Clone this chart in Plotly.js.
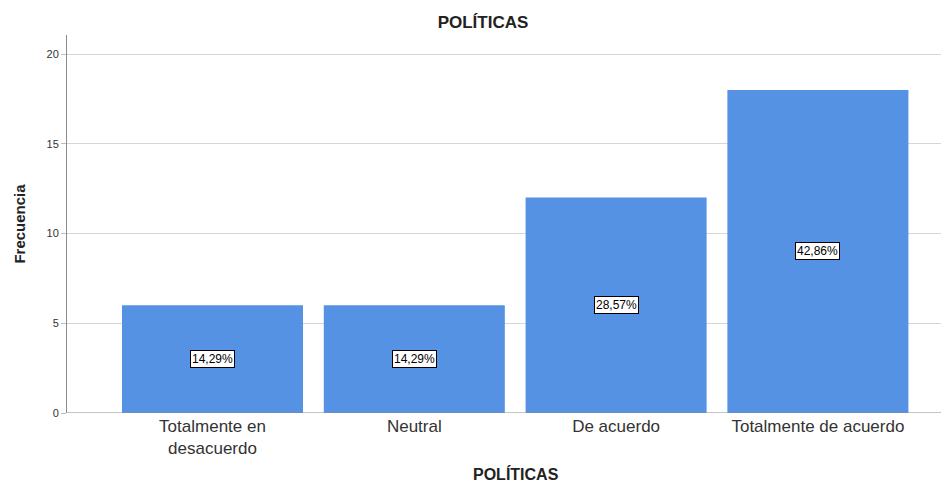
<!DOCTYPE html>
<html>
<head>
<meta charset="utf-8">
<script src="https://cdn.plot.ly/plotly-3.0.1.min.js"></script>
<style>html,body{margin:0;padding:0;background:#fff;}#chart{width:941px;height:484px;}</style>
</head>
<body>
<div id="chart"></div>
<script>
const categories = ["Totalmente en<br>desacuerdo", "Neutral", "De acuerdo", "Totalmente de acuerdo"];
const frequencies = [6, 6, 12, 18];
const chartTitle = "POLÍTICAS";
const yTitle = "Frecuencia";
const yTicks = [0, 5, 10, 15, 20];

const total = frequencies.reduce((a, b) => a + b, 0);
const pctLabels = frequencies.map(v => (v / total * 100).toFixed(2).replace('.', ',') + '%');

const FONT = 'Liberation Sans, Arial, sans-serif';

const trace = {
  type: 'bar',
  x: categories,
  y: frequencies,
  marker: {color: '#5592E3', line: {width: 0}},
  hoverinfo: 'none'
};

const annotations = categories.map((c, i) => ({
  x: c, y: frequencies[i] / 2, xref: 'x', yref: 'y',
  text: pctLabels[i], showarrow: false,
  font: {family: FONT, size: 12, color: '#000'},
  bgcolor: '#ffffff', bordercolor: '#000000', borderwidth: 1, borderpad: 1
}));
annotations.push({
  text: '<b>' + chartTitle + '</b>', xref: 'paper', yref: 'paper',
  x: (516 - 67) / 874, y: (413 - 474) / 378, xanchor: 'center', yanchor: 'middle', showarrow: false,
  font: {family: FONT, size: 16, color: '#222'}
});

const layout = {
  width: 941, height: 484,
  margin: {l: 67, r: 0, t: 35, b: 71},
  paper_bgcolor: '#fff', plot_bgcolor: '#fff',
  showlegend: false,
  bargap: 0.103,
  title: {text: '<b>' + chartTitle + '</b>', x: (483 - 67) / 874, xref: 'paper', xanchor: 'center', y: 0.955, yref: 'container', yanchor: 'middle',
    font: {family: FONT, size: 17, color: '#222'}},
  xaxis: {
    type: 'category', range: [-0.721, 3.61],
    showgrid: false, zeroline: false, showline: false, ticks: '',
    tickfont: {family: FONT, size: 17, color: '#333'},
    ticklabelstandoff: 1,
    fixedrange: true
  },
  yaxis: {
    range: [0, 21.06], tickvals: yTicks, ticktext: yTicks.map(String),
    showgrid: true, gridcolor: '#d6d6d6', gridwidth: 1,
    zeroline: false, showline: true, linecolor: '#8a8a8a', linewidth: 1,
    ticks: 'outside', ticklen: 5, tickcolor: '#bdbdbd',
    tickfont: {family: FONT, size: 11, color: '#333'},
    title: {text: '<b>' + yTitle + '</b>', standoff: 17,
      font: {family: FONT, size: 15, color: '#222'}},
    fixedrange: true
  },
  shapes: [{type: 'line', xref: 'paper', yref: 'y', x0: 0, x1: 1, y0: 0, y1: 0, line: {color: '#8a8a8a', width: 1}}],
  annotations: annotations
};

Plotly.newPlot('chart', [trace], layout, {displayModeBar: false, staticPlot: true});
</script>
</body>
</html>
